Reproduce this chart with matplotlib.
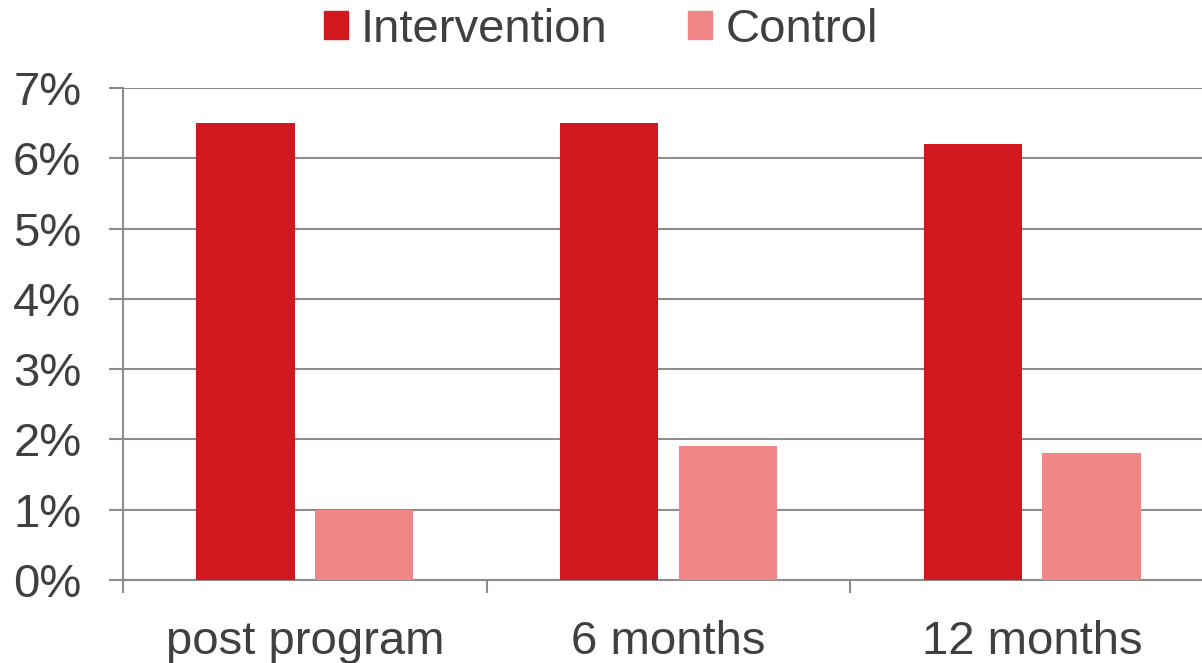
import matplotlib
matplotlib.use("Agg")
import matplotlib.pyplot as plt
import numpy as np
from matplotlib.patches import Patch
from matplotlib.ticker import FixedLocator, PercentFormatter

# Chart data
categories = ["post program", "6 months", "12 months"]
intervention = [6.5, 6.5, 6.2]
control = [1.0, 1.9, 1.8]
series_names = ["Intervention", "Control"]

# Styles
RED = "#D2181F"
PINK = "#F08686"
GRID = "#8C8C8C"
TEXT = "#404040"

plt.rcParams["font.family"] = ["Liberation Sans", "DejaVu Sans"]

fig = plt.figure(figsize=(12.02, 6.63), dpi=100)
# axes extends a bit past the right edge, like the source (cropped)
ax = fig.add_axes([123 / 1202, 1 - 580 / 663, (1214 - 123) / 1202, (580 - 88) / 663])

x = np.arange(len(categories))
w = 0.27
ax.bar(x - 0.163, intervention, w, color=RED, zorder=3)
ax.bar(x + 0.163, control, w, color=PINK, zorder=3)

ax.set_xlim(-0.5, len(categories) - 0.5)
ax.set_ylim(0, 7)
ax.set_yticks(range(0, 8))
ax.yaxis.set_major_formatter(PercentFormatter(decimals=0))
ax.grid(axis="y", color=GRID, linewidth=1.5, zorder=0)

# category boundary ticks + centred labels
ax.xaxis.set_major_locator(FixedLocator(np.arange(-0.5, len(categories), 1.0)))
ax.xaxis.set_minor_locator(FixedLocator(x))
ax.set_xticklabels([])
ax.set_xticklabels(categories, minor=True)
ax.tick_params(axis="x", which="major", length=9, width=1.5, color=GRID)
ax.tick_params(axis="x", which="minor", length=0, pad=29, labelsize=34, labelcolor=TEXT)
ax.tick_params(axis="y", length=10, width=1.5, color=GRID, pad=20, labelsize=34, labelcolor=TEXT)

for s in ["top", "right"]:
    ax.spines[s].set_visible(False)
ax.spines["left"].set_color(GRID)
ax.spines["left"].set_linewidth(1.5)
ax.spines["bottom"].set_color(GRID)
ax.spines["bottom"].set_linewidth(1.5)

handles = [Patch(color=RED), Patch(color=PINK)]
fig.legend(handles, series_names, loc="center", bbox_to_anchor=(0.4996, 0.955),
           ncol=2, frameon=False, fontsize=34, labelcolor=TEXT,
           handlelength=0.51, handleheight=0.51, handletextpad=0.27,
           columnspacing=1.72, borderpad=0, borderaxespad=0)

fig.savefig("out.png", dpi=100)
